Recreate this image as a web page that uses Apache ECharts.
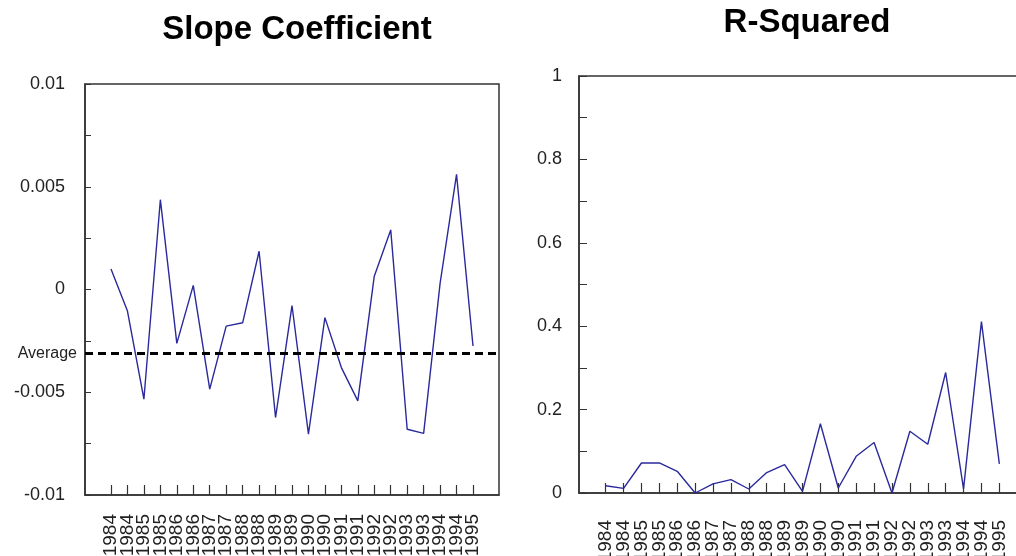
<!DOCTYPE html>
<html>
<head>
<meta charset="utf-8">
<script src="https://cdn.jsdelivr.net/npm/echarts@6/dist/echarts.min.js"></script>
<style>
  html, body { margin: 0; padding: 0; background: #fff; }
  #main { width: 1016px; height: 556px; }
</style>
</head>
<body>
<div id="main"></div>
<script>
// half-year periods, 1984 to 1995
var periods = ['1984', '1984', '1985', '1985', '1986', '1986', '1987', '1987',
    '1988', '1988', '1989', '1989', '1990', '1990', '1991', '1991',
    '1992', '1992', '1993', '1993', '1994', '1994', '1995'];

var slope = [0.001, -0.00105, -0.00534, 0.00437, -0.00262, 0.0002, -0.00485, -0.00178,
    -0.00162, 0.00186, -0.00623, -0.00078, -0.00704, -0.00137, -0.0038, -0.00542,
    0.00065, 0.0029, -0.0068, -0.007, 0.0003, 0.0056, -0.00275];
var slopeAverage = -0.0031;

var rSquared = [0.0175, 0.011, 0.072, 0.072, 0.052, 0.0, 0.022, 0.032,
    0.0096, 0.049, 0.068, 0.004, 0.166, 0.012, 0.088, 0.121,
    0.0, 0.148, 0.117, 0.289, 0.01, 0.411, 0.07];

var FONT = 'Liberation Sans, Arial, sans-serif';
var LINE_COLOR = '#2a2a9c';
var AXIS_COLOR = '#333';

var idx = [], evenIdx = [], oddIdx = [];
for (var i = 0; i < periods.length; i++) {
    idx.push(i);
    (i % 2 === 0 ? evenIdx : oddIdx).push(i);
}

function pairs(values) {
    var out = [];
    for (var i = 0; i < values.length; i++) {
        out.push([i, values[i]]);
    }
    return out;
}

// the axis that carries the line and the ticks
function tickAxis(gridIndex, pad) {
    return {
        type: 'value',
        gridIndex: gridIndex,
        position: 'bottom',
        min: -pad,
        max: periods.length - 1 + pad,
        splitLine: { show: false },
        axisLine: { onZero: false, lineStyle: { color: AXIS_COLOR, width: 1.5 } },
        axisTick: {
            inside: true,
            length: 10,
            customValues: idx,
            lineStyle: { color: AXIS_COLOR, width: 1.2 }
        },
        axisLabel: { show: false }
    };
}

// label-only axes (even / odd periods) so the dense rotated labels are never thinned out
function labelAxis(gridIndex, pad, margin, values) {
    return {
        type: 'value',
        gridIndex: gridIndex,
        position: 'bottom',
        min: -pad,
        max: periods.length - 1 + pad,
        splitLine: { show: false },
        axisLine: { show: false, onZero: false },
        axisTick: { show: false },
        axisLabel: {
            customValues: values,
            showMinLabel: true,
            showMaxLabel: true,
            hideOverlap: false,
            rotate: 90,
            margin: margin,
            fontSize: 19,
            fontFamily: FONT,
            color: '#222',
            formatter: function (v) { return periods[Math.round(v)]; }
        }
    };
}

var option = {
    animation: false,
    backgroundColor: '#fff',
    title: [
        {
            text: 'Slope Coefficient',
            left: 292,
            top: 8,
            textAlign: 'center',
            textStyle: { fontSize: 33, fontWeight: 'bold', fontFamily: FONT, color: '#000' }
        },
        {
            text: 'R-Squared',
            left: 802,
            top: 1,
            textAlign: 'center',
            textStyle: { fontSize: 33, fontWeight: 'bold', fontFamily: FONT, color: '#000' }
        }
    ],
    grid: [
        { left: 85, right: 517, top: 84, bottom: 61, outerBoundsMode: 'none',
          show: true, borderColor: AXIS_COLOR, borderWidth: 1.5 },
        { left: 579, right: -10, top: 76, bottom: 63, outerBoundsMode: 'none',
          show: true, borderColor: AXIS_COLOR, borderWidth: 1.5 }
    ],
    xAxis: [
        tickAxis(0, 1.58),
        tickAxis(1, 1.49),
        labelAxis(0, 1.58, 19, evenIdx),
        labelAxis(0, 1.58, 19, oddIdx),
        labelAxis(1, 1.49, 27, evenIdx),
        labelAxis(1, 1.49, 27, oddIdx)
    ],
    yAxis: [
        {
            type: 'value',
            gridIndex: 0,
            min: -0.01,
            max: 0.01,
            interval: 0.0025,
            splitLine: { show: false },
            axisLine: { show: true, onZero: false, lineStyle: { color: AXIS_COLOR, width: 1.5 } },
            axisTick: { show: true, inside: true, length: 6, lineStyle: { color: AXIS_COLOR } },
            axisLabel: {
                margin: 20,
                fontSize: 18,
                fontFamily: FONT,
                color: '#222',
                formatter: function (v) {
                    if (Math.round(v / 0.0025) % 2 !== 0) {
                        return '';
                    }
                    return String(+v.toFixed(4));
                }
            }
        },
        {
            type: 'value',
            gridIndex: 1,
            min: 0,
            max: 1,
            interval: 0.1,
            splitLine: { show: false },
            axisLine: { show: true, onZero: false, lineStyle: { color: AXIS_COLOR, width: 1.5 } },
            axisTick: { show: true, inside: true, length: 8, lineStyle: { color: AXIS_COLOR } },
            axisLabel: {
                margin: 17,
                fontSize: 18,
                fontFamily: FONT,
                color: '#222',
                formatter: function (v) {
                    if (Math.round(v * 10) % 2 !== 0) {
                        return '';
                    }
                    return String(+v.toFixed(1));
                }
            }
        }
    ],
    series: [
        {
            name: 'Slope Coefficient',
            type: 'line',
            xAxisIndex: 0,
            yAxisIndex: 0,
            data: pairs(slope),
            showSymbol: false,
            lineStyle: { color: LINE_COLOR, width: 1.4 },
            markLine: {
                silent: true,
                symbol: 'none',
                precision: 6,
                lineStyle: { color: '#000', type: [8, 5], width: 3 },
                label: {
                    position: 'start',
                    formatter: 'Average',
                    distance: 8,
                    fontSize: 16,
                    fontFamily: FONT,
                    color: '#222'
                },
                data: [{ yAxis: slopeAverage }]
            }
        },
        {
            name: 'R-Squared',
            type: 'line',
            xAxisIndex: 1,
            yAxisIndex: 1,
            data: pairs(rSquared),
            showSymbol: false,
            lineStyle: { color: LINE_COLOR, width: 1.4 }
        }
    ]
};

var myChart = echarts.init(document.getElementById('main'), null, { renderer: 'canvas' });
myChart.setOption(option);
</script>
</body>
</html>
